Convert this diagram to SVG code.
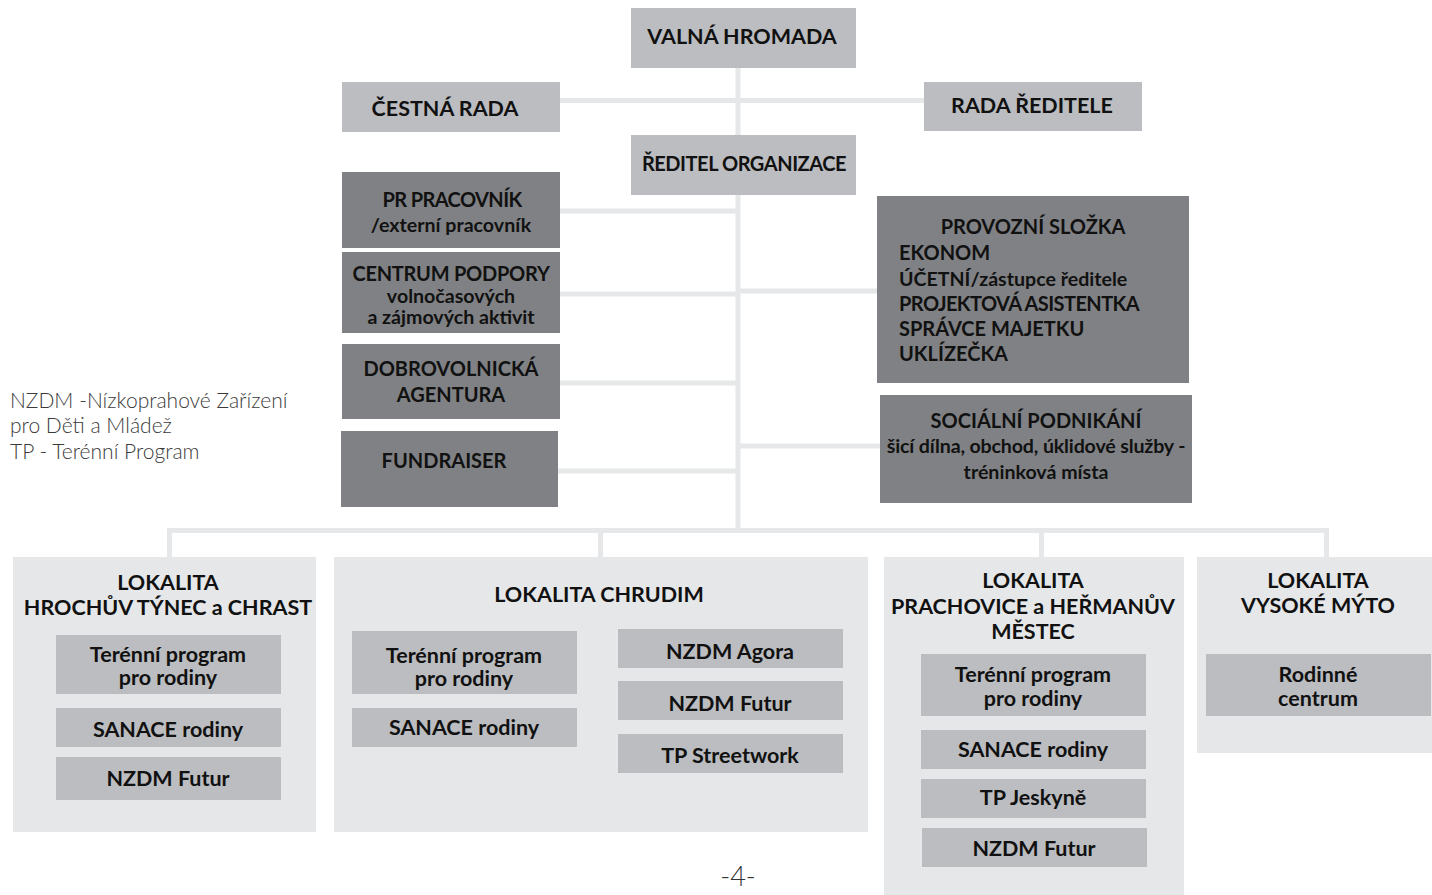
<svg xmlns="http://www.w3.org/2000/svg" width="1432" height="895" viewBox="0 0 1432 895">
<style>
.lt{fill:#bcbdc0}
.dk{fill:#808184}
.lok{fill:#e6e7e8}
.c{stroke:#e6e7e8;stroke-width:5;fill:none}
text{font-family:Lato,"Noto Sans",sans-serif;fill:#111;font-weight:700}
.h{font-size:21.5px;text-anchor:middle}
.d{font-size:20px;text-anchor:middle}
.s{font-size:19.6px;text-anchor:middle}
.l{font-size:20px}
.ls{font-size:19.6px}
.leg{font-size:21px;font-weight:300;fill:#3a3a3a}
</style>
<rect width="1432" height="895" fill="#fff"/>
<g id="connectors">
<line class="c" x1="738" y1="68" x2="738" y2="135"/>
<line class="c" x1="560" y1="100.5" x2="924" y2="100.5"/>
<line class="c" x1="738" y1="195" x2="738" y2="530"/>
<line class="c" x1="560" y1="211" x2="738" y2="211"/>
<line class="c" x1="560" y1="294" x2="738" y2="294"/>
<line class="c" x1="560" y1="383" x2="738" y2="383"/>
<line class="c" x1="558" y1="471" x2="738" y2="471"/>
<line class="c" x1="738" y1="291" x2="877" y2="291"/>
<line class="c" x1="738" y1="446" x2="880" y2="446"/>
<polyline class="c" points="169.5,557 169.5,530.5 1326.5,530.5 1326.5,557"/>
<line class="c" x1="600.5" y1="530" x2="600.5" y2="557"/>
<line class="c" x1="1041.5" y1="530" x2="1041.5" y2="557"/>
</g>
<g id="valna-hromada"><rect class="lt" x="631" y="8" width="225" height="60"/><text class="h" x="742" y="44">VALNÁ HROMADA</text></g>
<g id="cestna-rada"><rect class="lt" x="342" y="82" width="218" height="50"/><text class="h" x="445" y="116">ČESTNÁ RADA</text></g>
<g id="rada-reditele"><rect class="lt" x="924" y="82" width="218" height="49"/><text class="h" x="1032" y="113">RADA ŘEDITELE</text></g>
<g id="reditel"><rect class="lt" x="631" y="135" width="225" height="60"/><text class="d" x="744" y="171" letter-spacing="-0.45">ŘEDITEL ORGANIZACE</text></g>
<g id="pr"><rect class="dk" x="342" y="172" width="218" height="76"/><text class="d" x="452" y="207" letter-spacing="-0.6">PR PRACOVNÍK</text><text class="s" x="451" y="232">/externí pracovník</text></g>
<g id="centrum"><rect class="dk" x="342" y="252" width="218" height="81"/><text class="d" x="451" y="281" letter-spacing="-0.25">CENTRUM PODPORY</text><text class="s" x="451" y="303">volnočasových</text><text class="s" x="451" y="324">a zájmových aktivit</text></g>
<g id="dobrovolnicka"><rect class="dk" x="342" y="344" width="218" height="75"/><text class="d" x="451" y="376">DOBROVOLNICKÁ</text><text class="d" x="451" y="402">AGENTURA</text></g>
<g id="fundraiser"><rect class="dk" x="341" y="431" width="217" height="76"/><text class="d" x="444" y="468">FUNDRAISER</text></g>
<g id="provozni"><rect class="dk" x="877" y="196" width="312" height="187"/><text class="d" x="1033" y="234">PROVOZNÍ SLOŽKA</text><text class="l" x="899" y="260">EKONOM</text><text class="ls" x="899" y="286">ÚČETNÍ/zástupce ředitele</text><text class="l" x="899" y="311" letter-spacing="-0.57">PROJEKTOVÁ ASISTENTKA</text><text class="l" x="899" y="336">SPRÁVCE MAJETKU</text><text class="l" x="899" y="361">UKLÍZEČKA</text></g>
<g id="socialni"><rect class="dk" x="880" y="395" width="312" height="108"/><text class="d" x="1036" y="428">SOCIÁLNÍ PODNIKÁNÍ</text><text class="s" x="1036" y="453" letter-spacing="-0.15">šicí dílna, obchod, úklidové služby -</text><text class="s" x="1036" y="479">tréninková místa</text></g>
<g id="legend"><text class="leg" x="10" y="408">NZDM -Nízkoprahové Zařízení</text><text class="leg" x="10" y="433">pro Děti a Mládež</text><text class="leg" x="10" y="459">TP - Terénní Program</text></g>
<g id="lokalita-hrochuv"><rect class="lok" x="13" y="557" width="303" height="275"/><text class="h" x="168" y="590">LOKALITA</text><text class="h" x="168" y="615">HROCHŮV TÝNEC a CHRAST</text>
<rect class="lt" x="56" y="635" width="225" height="59"/><text class="h" x="168" y="662">Terénní program</text><text class="h" x="168" y="685">pro rodiny</text>
<rect class="lt" x="56" y="708" width="225" height="39"/><text class="h" x="168" y="737">SANACE rodiny</text>
<rect class="lt" x="56" y="757" width="225" height="43"/><text class="h" x="168" y="786">NZDM Futur</text></g>
<g id="lokalita-chrudim"><rect class="lok" x="334" y="557" width="534" height="275"/><text class="h" x="599" y="602">LOKALITA CHRUDIM</text>
<rect class="lt" x="352" y="631" width="225" height="63"/><text class="h" x="464" y="663">Terénní program</text><text class="h" x="464" y="686">pro rodiny</text>
<rect class="lt" x="352" y="708" width="225" height="39"/><text class="h" x="464" y="735">SANACE rodiny</text>
<rect class="lt" x="618" y="629" width="225" height="39"/><text class="h" x="730" y="659">NZDM Agora</text>
<rect class="lt" x="618" y="681" width="225" height="39"/><text class="h" x="730" y="711">NZDM Futur</text>
<rect class="lt" x="618" y="734" width="225" height="39"/><text class="h" x="730" y="763">TP Streetwork</text></g>
<g id="lokalita-prachovice"><rect class="lok" x="884" y="557" width="300" height="338"/><text class="h" x="1033" y="588">LOKALITA</text><text class="h" x="1033" y="614">PRACHOVICE a HEŘMANŮV</text><text class="h" x="1033" y="639">MĚSTEC</text>
<rect class="lt" x="921" y="654" width="225" height="62"/><text class="h" x="1033" y="682">Terénní program</text><text class="h" x="1033" y="706">pro rodiny</text>
<rect class="lt" x="921" y="730" width="225" height="39"/><text class="h" x="1033" y="757">SANACE rodiny</text>
<rect class="lt" x="921" y="779" width="225" height="39"/><text class="h" x="1033" y="805">TP Jeskyně</text>
<rect class="lt" x="922" y="828" width="225" height="39"/><text class="h" x="1034" y="856">NZDM Futur</text></g>
<g id="lokalita-vysoke-myto"><rect class="lok" x="1197" y="557" width="235" height="196"/><text class="h" x="1318" y="588">LOKALITA</text><text class="h" x="1318" y="613">VYSOKÉ MÝTO</text>
<rect class="lt" x="1206" y="654" width="225" height="62"/><text class="h" x="1318" y="682">Rodinné</text><text class="h" x="1318" y="706">centrum</text></g>
<text x="738" y="886" style="font-size:27px;font-weight:300;fill:#333;text-anchor:middle">-4-</text>
</svg>
